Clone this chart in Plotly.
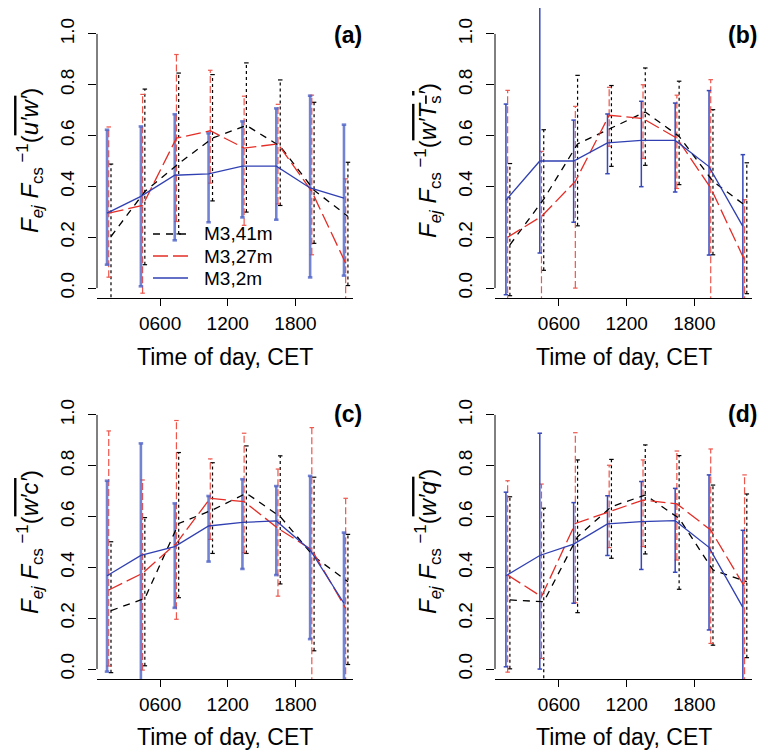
import plotly.graph_objects as go

# sampling hours (centre of each 3-hour block), tick labels
hours = [1.5, 4.5, 7.5, 10.5, 13.5, 16.5, 19.5, 22.5]
tick_hours = [6, 12, 18]
tick_text = ["0600", "1200", "1800"]
series_names = ["M3,41m", "M3,27m", "M3,2m"]

# (a) u'w'
a_41_mean = [0.203, 0.380, 0.490, 0.590, 0.640, 0.558, 0.385, 0.282]
a_41_hi = [0.488, 0.783, 0.846, 0.840, 0.886, 0.819, 0.731, 0.495]
a_41_lo = [-0.06, 0.092, 0.213, 0.343, 0.299, 0.325, 0.176, 0.010]
a_27_mean = [0.295, 0.325, 0.590, 0.619, 0.551, 0.567, 0.380, 0.098]
a_27_hi = [0.634, 0.762, 0.919, 0.857, 0.755, 0.723, 0.759, 0.430]
a_27_lo = [0.043, -0.020, 0.262, 0.413, 0.247, 0.331, 0.131, -0.06]
a_2_mean = [0.295, 0.361, 0.444, 0.449, 0.480, 0.480, 0.394, 0.354]
a_2_hi = [0.623, 0.636, 0.684, 0.609, 0.656, 0.707, 0.757, 0.643]
a_2_lo = [0.092, 0.007, 0.188, 0.259, 0.278, 0.269, 0.042, 0.049]

# (b) w'Ts'
b_41_mean = [0.170, 0.350, 0.567, 0.631, 0.693, 0.597, 0.420, 0.320]
b_41_hi = [0.490, 0.623, 0.837, 0.797, 0.866, 0.814, 0.702, 0.493]
b_41_lo = [-0.030, 0.070, 0.245, 0.479, 0.483, 0.407, 0.131, -0.022]
b_27_mean = [0.200, 0.282, 0.420, 0.680, 0.667, 0.590, 0.394, 0.110]
b_27_hi = [0.778, 0.538, 0.715, 0.790, 0.800, 0.759, 0.820, 0.348]
b_27_lo = [-0.06, -0.06, 0.000, 0.558, 0.510, 0.392, -0.06, -0.06]
b_2_mean = [0.346, 0.500, 0.500, 0.571, 0.581, 0.581, 0.478, 0.243]
b_2_hi = [0.724, 1.25, 0.661, 0.685, 0.735, 0.728, 0.777, 0.525]
b_2_lo = [-0.026, 0.138, 0.259, 0.450, 0.399, 0.378, 0.130, -0.06]

# (c) w'c'
c_41_mean = [0.230, 0.278, 0.573, 0.626, 0.692, 0.600, 0.442, 0.344]
c_41_hi = [0.501, 0.596, 0.852, 0.812, 0.878, 0.839, 0.755, 0.530]
c_41_lo = [-0.014, 0.013, 0.281, 0.455, 0.455, 0.335, 0.072, 0.018]
c_27_mean = [0.311, 0.377, 0.495, 0.672, 0.659, 0.554, 0.469, 0.239]
c_27_hi = [0.937, 0.744, 0.978, 0.827, 0.928, 0.787, 0.950, 0.672]
c_27_lo = [0.012, -0.004, 0.196, 0.510, 0.458, 0.287, -0.06, -0.06]
c_2_mean = [0.367, 0.447, 0.482, 0.563, 0.577, 0.583, 0.469, 0.259]
c_2_hi = [0.741, 0.888, 0.652, 0.681, 0.747, 0.720, 0.760, 0.537]
c_2_lo = [-0.010, -0.06, 0.241, 0.423, 0.394, 0.370, 0.118, -0.06]

# (d) w'q'
d_41_mean = [0.272, 0.265, 0.521, 0.639, 0.685, 0.593, 0.390, 0.344]
d_41_hi = [0.678, 0.633, 0.823, 0.825, 0.882, 0.840, 0.724, 0.689]
d_41_lo = [0.001, -0.06, 0.222, 0.436, 0.453, 0.314, 0.094, 0.045]
d_27_mean = [0.370, 0.285, 0.573, 0.619, 0.665, 0.650, 0.547, 0.324]
d_27_hi = [0.741, 0.728, 0.930, 0.802, 0.823, 0.858, 0.866, 0.764]
d_27_lo = [-0.012, 0.042, 0.261, 0.478, 0.482, 0.429, 0.101, -0.06]
d_2_mean = [0.367, 0.447, 0.492, 0.571, 0.580, 0.584, 0.479, 0.243]
d_2_hi = [0.696, 0.928, 0.655, 0.682, 0.738, 0.711, 0.764, 0.546]
d_2_lo = [0.009, 0.000, 0.259, 0.447, 0.392, 0.381, 0.154, -0.06]

FONT = "Liberation Sans, Arial, Helvetica, sans-serif"
OL = "<span style='text-decoration:overline'>"
flux_labels = [
    OL + "<i>u′w′</i></span>",
    OL + "<i>w′T</i><sub>s</sub><i>′</i></span>",
    OL + "<i>w′c′</i></span>",
    OL + "<i>w′q′</i></span>",
]
panel_tags = ["(a)", "(b)", "(c)", "(d)"]

panels = [
    [(a_41_mean, a_41_lo, a_41_hi), (a_27_mean, a_27_lo, a_27_hi), (a_2_mean, a_2_lo, a_2_hi)],
    [(b_41_mean, b_41_lo, b_41_hi), (b_27_mean, b_27_lo, b_27_hi), (b_2_mean, b_2_lo, b_2_hi)],
    [(c_41_mean, c_41_lo, c_41_hi), (c_27_mean, c_27_lo, c_27_hi), (c_2_mean, c_2_lo, c_2_hi)],
    [(d_41_mean, d_41_lo, d_41_hi), (d_27_mean, d_27_lo, d_27_hi), (d_2_mean, d_2_lo, d_2_hi)],
]

# styling per series: dodge offset (h), line colour/dash, bar colour/dash
offsets = [0.15, -0.05, -0.2]
line_col = ["black", "rgb(228,45,38)", "rgb(48,64,178)"]
line_dash = ["7px,6px", "15px,5px", "solid"]
bar_col = ["black", "rgb(238,85,75)", "rgba(75,95,195,0.8)"]
bar_dash = ["3px,3px", "7px,3px", "solid"]
blue_bar_w = [2.6, 1.5, 2.6, 1.5]
blue_bar_col = ["rgba(80,100,200,0.8)", "rgb(55,72,185)", "rgba(80,100,200,0.8)", "rgb(55,72,185)"]
cap = 0.2

# page pixels -> paper coords (the html body adds an 8px margin)
W, H, OFF = 765, 751, 8


def px(X):
    return (X - OFF) / W


def py(Y):
    return min(1.0, 1 - (Y - OFF) / H)


xdom = [[px(97), px(353)], [px(495), px(752)]]
ydom = [[py(298), py(8)], [py(679), py(389)]]
xrng = [[0.41, 23.1], [0.33, 23.11]]
yrng = [-0.039, 1.102]

fig = go.Figure()
layout = {}
annotations = []
shapes = []

for p, series in enumerate(panels):
    row, col = p // 2, p % 2
    sfx = "" if p == 0 else str(p + 1)
    xa, ya = "x" + sfx, "y" + sfx

    for s, (mean, lo, hi) in enumerate(series):
        xs = [h + offsets[s] for h in hours]
        bx, by, cx, cy = [], [], [], []
        for x, l, u in zip(xs, lo, hi):
            bx += [x, x, None]
            by += [l, u, None]
            cx += [x - cap, x + cap, None, x - cap, x + cap, None]
            cy += [l, l, None, u, u, None]
        bw = blue_bar_w[p] if s == 2 else 1.2
        bc = blue_bar_col[p] if s == 2 else bar_col[s]
        fig.add_trace(go.Scatter(x=bx, y=by, mode="lines", xaxis=xa, yaxis=ya,
                                 line=dict(color=bc, width=bw, dash=bar_dash[s]),
                                 showlegend=False, hoverinfo="skip"))
        fig.add_trace(go.Scatter(x=cx, y=cy, mode="lines", xaxis=xa, yaxis=ya,
                                 line=dict(color=bc, width=bw),
                                 showlegend=False, hoverinfo="skip"))
    for s, (mean, lo, hi) in enumerate(series):
        xs = [h + offsets[s] for h in hours]
        fig.add_trace(go.Scatter(x=xs, y=mean, mode="lines", xaxis=xa, yaxis=ya,
                                 name=series_names[s],
                                 line=dict(color=line_col[s], width=1.3, dash=line_dash[s]),
                                 showlegend=False))

    layout["xaxis" + sfx] = dict(
        domain=xdom[col], range=xrng[col], anchor=ya, automargin=False,
        tickvals=tick_hours, ticktext=tick_text, ticks="outside", ticklen=7,
        tickcolor="black", showline=True, linecolor="black", linewidth=1,
        showgrid=False, zeroline=False, ticklabelstandoff=1,
        tickfont=dict(family=FONT, size=19, color="black"))
    layout["yaxis" + sfx] = dict(
        domain=ydom[row], range=yrng, anchor=xa, automargin=False,
        tickvals=[0, 0.2, 0.4, 0.6, 0.8, 1.0],
        ticktext=["0.0", "0.2", "0.4", "0.6", "0.8", "1.0"],
        ticks="outside", ticklen=8, tickcolor="black", tickangle=-90,
        showline=False, showgrid=False, zeroline=False, ticklabelstandoff=6,
        tickfont=dict(family=FONT, size=19, color="black"))
    # R style y axis line, only between first and last tick
    shapes.append(dict(type="line", xref=xa + " domain", yref=ya, x0=0, x1=0, y0=0, y1=1,
                       line=dict(color="black", width=1)))

    annotations.append(dict(
        text="Time of day, CET", xref=xa + " domain", yref="paper",
        x=0.5, y=py(357 if row == 0 else 737), showarrow=False,
        xanchor="center", yanchor="middle",
        font=dict(family=FONT, size=23, color="black")))
    annotations.append(dict(
        text="<i>F</i><sub><i>ej</i></sub> <i>F</i><sub>cs</sub><sup> −1</sup>(" + flux_labels[p] + ")",
        textangle=-90, xref="paper", yref=ya,
        x=px(30 if col == 0 else 428), y=0.5, showarrow=False,
        xanchor="center", yanchor="middle",
        font=dict(family=FONT, size=24, color="black")))
    annotations.append(dict(
        text="<b>" + panel_tags[p] + "</b>", xref="paper", yref="paper",
        x=px(348 if col == 0 else 742), y=py(35 if row == 0 else 414),
        showarrow=False, xanchor="center", yanchor="middle",
        font=dict(family=FONT, size=23, color="black")))

# legend inside panel (a), drawn by hand like R's legend(bty="n")
leg_rows = [234, 256, 278]
for s in range(3):
    yp = py(leg_rows[s])
    shapes.append(dict(type="line", xref="paper", yref="paper",
                       x0=px(153), x1=px(188), y0=yp, y1=yp,
                       line=dict(color=line_col[s], width=1.3, dash=line_dash[s])))
    annotations.append(dict(text=series_names[s], xref="paper", yref="paper",
                            x=px(202), y=yp, xanchor="left", yanchor="middle",
                            showarrow=False,
                            font=dict(family=FONT, size=19, color="black")))

fig.update_layout(**layout)
fig.update_layout(
    width=W, height=H, margin=dict(l=0, r=0, t=0, b=0),
    plot_bgcolor="white", paper_bgcolor="white",
    annotations=annotations, shapes=shapes, showlegend=False)

fig.write_html("out.html")
